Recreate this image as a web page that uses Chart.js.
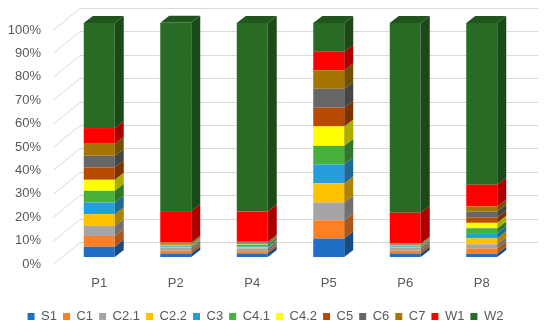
<!DOCTYPE html>
<html>
<head>
<meta charset="utf-8">
<script src="https://cdn.jsdelivr.net/npm/chart.js@4/dist/chart.umd.min.js"></script>
<style>
  html, body { margin: 0; padding: 0; background: #fff; }
  #wrap { width: 550px; height: 334px; }
</style>
</head>
<body>
<div id="wrap"><canvas id="myChart"></canvas></div>
<script>
// columns
var labelsP = ['P1', 'P2', 'P4', 'P5', 'P6', 'P8'];

// share of each component per column (%)
var S1   = [4.4, 1.5, 1.5, 7.9, 1.5, 1.4];
var C1   = [4.6, 1.2, 1.0, 7.8, 1.2, 2.3];
var C2_1 = [4.3, 1.2, 1.2, 7.6, 1.3, 1.7];
var C2_2 = [5.0, 0.4, 0.4, 8.2, 0.3, 2.6];
var C3   = [5.0, 0.3, 0.4, 8.0, 0.3, 2.2];
var C4_1 = [5.0, 0.3, 0.8, 8.0, 0.3, 2.1];
var C4_2 = [4.7, 0.3, 0.3, 8.3, 0.2, 2.3];
var C5   = [5.3, 0.3, 0.3, 8.0, 0.2, 2.3];
var C6   = [5.0, 0.3, 0.3, 8.1, 0.2, 2.5];
var C7   = [5.1, 0.4, 0.3, 7.9, 0.3, 2.2];
var W1   = [6.7, 13.4, 12.9, 7.9, 13.1, 9.3];
var W2   = [44.9, 80.5, 80.6, 12.3, 81.1, 69.1];

var seriesNames = ['S1', 'C1', 'C2.1', 'C2.2', 'C3', 'C4.1', 'C4.2', 'C5', 'C6', 'C7', 'W1', 'W2'];
var seriesData = [S1, C1, C2_1, C2_2, C3, C4_1, C4_2, C5, C6, C7, W1, W2];
var seriesColors = ['#1f6fc6', '#fd8024', '#a5a5a5', '#ffc000', '#279ddb', '#47b13c',
                    '#ffff00', '#b84a00', '#666666', '#a67500', '#ff0000', '#286b24'];

var DX = 9, DY = -7;   // depth of the bars

function shade(hex, f) {
    var r = parseInt(hex.substr(1, 2), 16), g = parseInt(hex.substr(3, 2), 16), b = parseInt(hex.substr(5, 2), 16);
    return 'rgb(' + Math.round(r * f) + ',' + Math.round(g * f) + ',' + Math.round(b * f) + ')';
}

// back wall + side wall grid lines
var wallPlugin = {
    id: 'wall',
    beforeDatasetsDraw: function(chart) {
        var ctx = chart.ctx, y = chart.scales.y;
        ctx.save();
        ctx.strokeStyle = '#d9d9d9';
        ctx.lineWidth = 1;
        for (var v = 0; v <= 100; v += 10) {
            var yf = Math.round(y.getPixelForValue(v)) + 0.5;
            ctx.beginPath();
            ctx.moveTo(53, yf + 7);
            ctx.lineTo(80, yf - 15);
            ctx.lineTo(538, yf - 15);
            ctx.stroke();
        }
        ctx.restore();
    }
};

// side and top faces
var depthPlugin = {
    id: 'depth',
    afterDatasetsDraw: function(chart) {
        var ctx = chart.ctx;
        var n = chart.data.datasets.length;
        ctx.save();
        for (var d = 0; d < n; d++) {
            var meta = chart.getDatasetMeta(d);
            var col = chart.data.datasets[d].backgroundColor;
            meta.data.forEach(function(bar) {
                var p = bar.getProps(['x', 'y', 'base', 'width'], true);
                var r = p.x + p.width / 2, l = p.x - p.width / 2;
                if (Math.abs(p.base - p.y) > 0.01) {
                    ctx.fillStyle = shade(col, 0.68);
                    ctx.beginPath();
                    ctx.moveTo(r, p.y);
                    ctx.lineTo(r + DX, p.y + DY);
                    ctx.lineTo(r + DX, p.base + DY);
                    ctx.lineTo(r, p.base);
                    ctx.closePath();
                    ctx.fill();
                }
                if (d === n - 1) {
                    ctx.fillStyle = shade(col, 0.8);
                    ctx.beginPath();
                    ctx.moveTo(l, p.y);
                    ctx.lineTo(l + DX, p.y + DY);
                    ctx.lineTo(r + DX, p.y + DY);
                    ctx.lineTo(r, p.y);
                    ctx.closePath();
                    ctx.fill();
                }
            });
        }
        ctx.restore();
    }
};

var datasets = seriesNames.map(function(name, i) {
    return {
        label: name,
        data: seriesData[i],
        backgroundColor: seriesColors[i],
        borderWidth: 0,
        barPercentage: 0.405,
        categoryPercentage: 1
    };
});

Chart.defaults.font.family = "'Liberation Sans', Arial, sans-serif";
Chart.defaults.color = '#595959';

var ctx = document.getElementById('myChart').getContext('2d');
var myChart = new Chart(ctx, {
    type: 'bar',
    data: { labels: labelsP, datasets: datasets },
    plugins: [wallPlugin, depthPlugin],
    options: {
        responsive: true,
        maintainAspectRatio: false,
        animation: false,
        layout: { padding: { top: 23, right: 19, bottom: 1, left: 0 } },
        plugins: {
            legend: {
                position: 'bottom',
                labels: {
                    boxWidth: 7,
                    boxHeight: 7,
                    padding: 6,
                    font: { size: 13 },
                    color: '#595959'
                }
            },
            tooltip: { enabled: false }
        },
        scales: {
            x: {
                stacked: true,
                grid: { display: false, drawTicks: false },
                border: { display: false },
                ticks: { padding: 19, font: { size: 13 }, color: '#595959' },
                afterFit: function(scale) { scale.height = 47; }
            },
            y: {
                stacked: true,
                min: 0,
                max: 100,
                grid: { display: false, drawTicks: true, tickLength: 17 },
                border: { display: false },
                ticks: {
                    stepSize: 10,
                    padding: 3,
                    labelOffset: 7,
                    font: { size: 13 },
                    color: '#595959',
                    callback: function(v) { return v + '%'; }
                },
                afterFit: function(scale) { scale.width = 61; }
            },
            // empty strip on the right so the plot ends where the reference does
            yr: {
                position: 'right',
                grid: { display: false, drawTicks: false },
                border: { display: false },
                ticks: { display: false },
                afterFit: function(scale) { scale.width = 11; }
            }
        }
    }
});
</script>
</body>
</html>
